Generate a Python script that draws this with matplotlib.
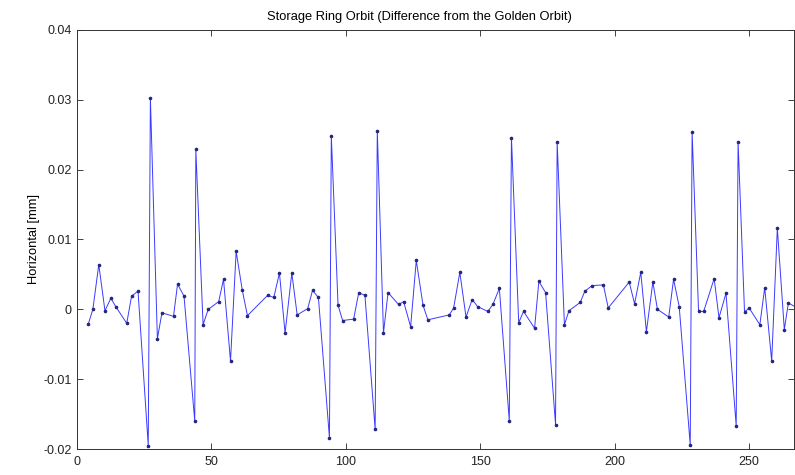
import matplotlib
matplotlib.use("Agg")
import matplotlib.pyplot as plt

plt.rcParams['font.family'] = ['Liberation Sans', 'DejaVu Sans']

# BPM positions (m) and horizontal orbit difference (mm)
position = [4.2, 5.9, 8.1, 10.4, 12.6, 14.4, 18.5, 20.3, 22.7, 26.5, 27.3, 29.9,
            31.6, 35.9, 37.4, 39.8, 43.8, 44.2, 46.9, 48.8, 52.7, 54.5, 57.1, 59.2,
            61.5, 63.4, 70.9, 73.2, 75.3, 77.4, 79.9, 81.9, 85.8, 87.6, 89.8, 93.9,
            94.6, 97.1, 98.8, 102.9, 104.8, 107.1, 110.9, 111.7, 114.0, 115.7, 119.6,
            121.5, 124.1, 126.2, 128.7, 130.5, 138.5, 140.1, 142.4, 144.7, 147.0,
            149.0, 152.8, 154.7, 157.1, 160.8, 161.6, 164.3, 166.1, 170.2, 171.8,
            174.3, 178.0, 178.6, 181.3, 183.0, 187.2, 188.9, 191.6, 195.8, 197.6,
            205.4, 207.4, 209.7, 211.8, 214.2, 215.9, 220.1, 221.9, 224.0, 228.1,
            228.8, 231.2, 233.1, 237.0, 238.8, 241.4, 245.2, 245.9, 248.3, 250.0,
            254.0, 255.8, 258.4, 260.5, 263.1, 264.6, 267.5]
horizontal = [-0.0021, 0.0000, 0.0064, -0.0002, 0.0016, 0.0004, -0.0020, 0.0019,
              0.0026, -0.0195, 0.0302, -0.0042, -0.0005, -0.0010, 0.0036, 0.0019,
              -0.0160, 0.0229, -0.0022, 0.0000, 0.0011, 0.0043, -0.0074, 0.0083,
              0.0027, -0.0009, 0.0020, 0.0017, 0.0052, -0.0034, 0.0052, -0.0008,
              0.0001, 0.0027, 0.0017, -0.0184, 0.0248, 0.0006, -0.0016, -0.0014,
              0.0024, 0.0020, -0.0172, 0.0256, -0.0034, 0.0024, 0.0007, 0.0011,
              -0.0025, 0.0070, 0.0006, -0.0015, -0.0008, 0.0002, 0.0053, -0.0011,
              0.0014, 0.0004, -0.0003, 0.0007, 0.0030, -0.0160, 0.0246, -0.0019,
              -0.0003, -0.0027, 0.0040, 0.0024, -0.0165, 0.0240, -0.0022, -0.0002,
              0.0010, 0.0026, 0.0034, 0.0035, 0.0002, 0.0039, 0.0008, 0.0053,
              -0.0032, 0.0039, 0.0000, -0.0011, 0.0043, 0.0004, -0.0194, 0.0254,
              -0.0003, -0.0003, 0.0044, -0.0012, 0.0023, -0.0167, 0.0240, -0.0004,
              0.0002, -0.0022, 0.0031, -0.0074, 0.0116, -0.0029, 0.0009, 0.0003]

xticks = [0, 50, 100, 150, 200, 250]
yticks = [-0.02, -0.01, 0, 0.01, 0.02, 0.03, 0.04]
yticklabels = ['-0.02', '-0.01', '0', '0.01', '0.02', '0.03', '0.04']

fig = plt.figure(figsize=(7.95, 4.75), dpi=100)
ax = fig.add_axes([77 / 795, 1 - 449 / 475, (794 - 77) / 795, (449 - 30) / 475])

ax.plot(position, horizontal, '-', color='#3a3aff', lw=0.7,
        marker='.', markersize=3.2, markerfacecolor='#26267a',
        markeredgecolor='#26267a')

ax.set_xlim(0, 266.7)
ax.set_ylim(-0.02, 0.04)
ax.set_xticks(xticks)
ax.set_xticklabels([str(t) for t in xticks])
ax.set_yticks(yticks)
ax.set_yticklabels(yticklabels)
ax.tick_params(direction='in', top=True, right=True, length=4, width=0.6,
               labelsize=9, colors='#222222')
ax.tick_params(axis='y', pad=4)
ax.tick_params(axis='x', pad=5)
for s in ax.spines.values():
    s.set_linewidth(0.7)
    s.set_color('#333333')

ax.set_title('Storage Ring Orbit (Difference from the Golden Orbit)',
             fontsize=9.3, pad=7, x=0.477)
ax.set_ylabel('Horizontal [mm]', fontsize=9.3, labelpad=2)

fig.savefig('out.png', dpi=100)
